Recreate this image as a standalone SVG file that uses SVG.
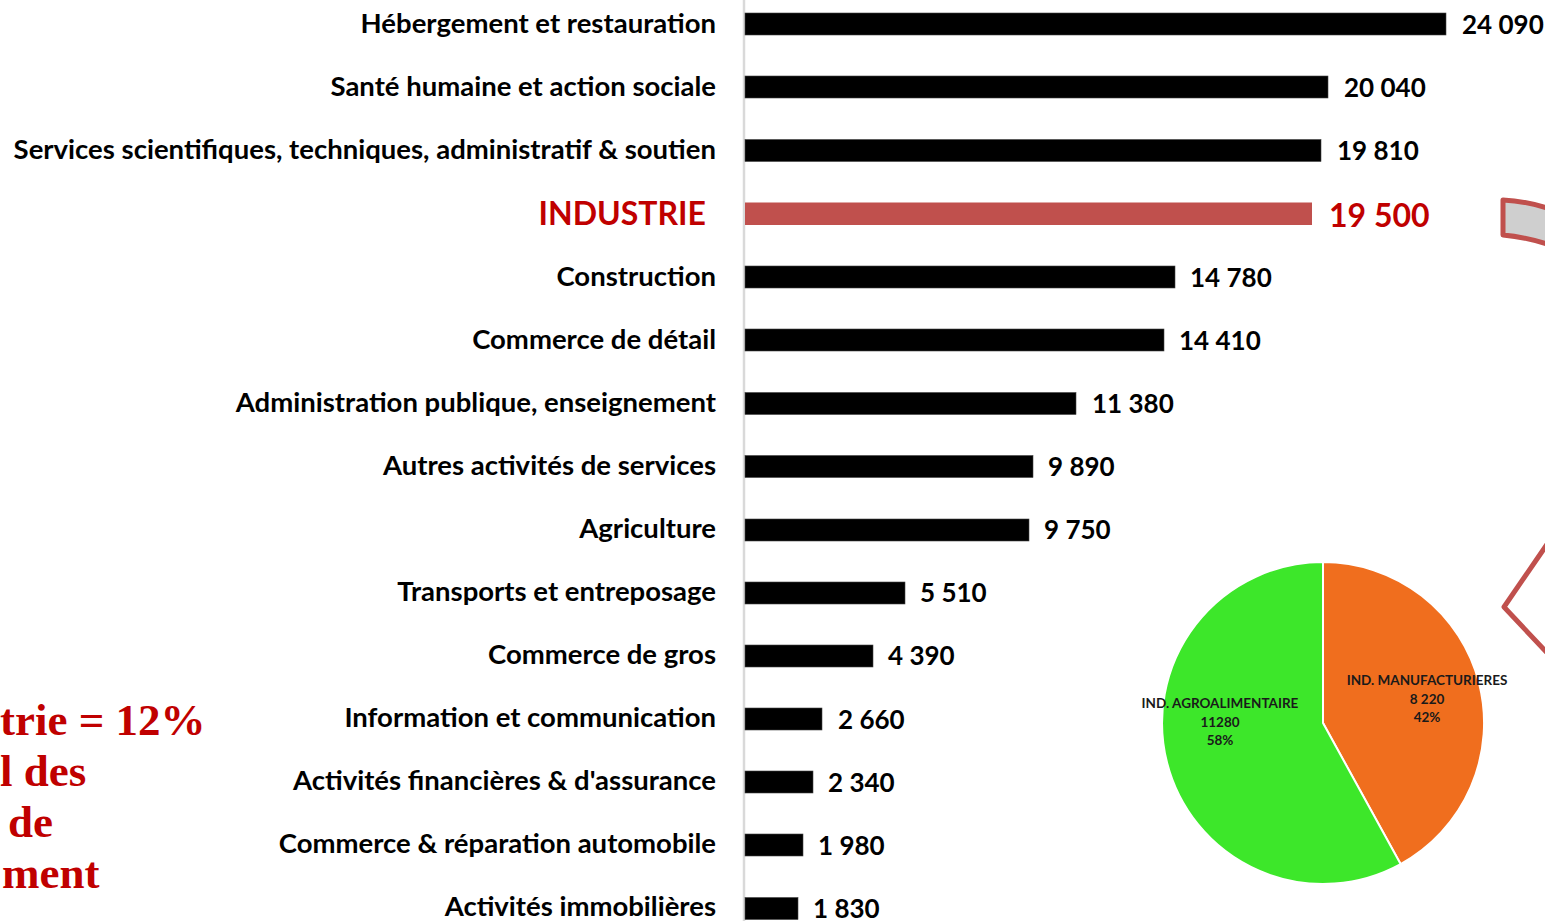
<svg xmlns="http://www.w3.org/2000/svg" width="1545" height="921" viewBox="0 0 1545 921">
<style>
.lbl{font-family:Lato,"Open Sans","Liberation Sans",sans-serif;font-weight:700;font-size:27.5px;fill:#000;text-anchor:end}
.val{font-family:Lato,"Open Sans","Liberation Sans",sans-serif;font-weight:700;font-size:26px;fill:#000}
.red{fill:#C00000;font-size:32px}
.bar{fill:#000;stroke:#444;stroke-width:0.6}
.pie{font-family:Lato,"Open Sans","Liberation Sans",sans-serif;font-weight:700;font-size:13.5px;fill:#1a1a1a;text-anchor:middle}
.big{font-family:"Liberation Serif","DejaVu Serif",serif;font-weight:700;font-size:45px;fill:#C00000}
</style>
<rect width="1545" height="921" fill="#fff"/>
<line x1="744" y1="0" x2="744" y2="921" stroke="#D9D9D9" stroke-width="2.5"/>
<g id="r1"><text class="lbl" x="716" y="33">Hébergement et restauration</text><rect class="bar" x="745" y="13" width="701" height="22"/><text class="val" x="1462" y="34">24 090</text></g>
<g id="r2"><text class="lbl" x="716" y="96">Santé humaine et action sociale</text><rect class="bar" x="745" y="76" width="583" height="22"/><text class="val" x="1344" y="97">20 040</text></g>
<g id="r3"><text class="lbl" x="716" y="159">Services scientifiques, techniques, administratif &amp; soutien</text><rect class="bar" x="745" y="139.5" width="576" height="22"/><text class="val" x="1337" y="160">19 810</text></g>
<g id="r4"><text class="lbl red" x="706" y="225">INDUSTRIE</text><rect x="745" y="202.5" width="567" height="22.5" fill="#C0504D"/><text class="val red" x="1329" y="227">19 500</text></g>
<g id="r5"><text class="lbl" x="716" y="286">Construction</text><rect class="bar" x="745" y="266" width="430" height="22"/><text class="val" x="1190" y="287">14 780</text></g>
<g id="r6"><text class="lbl" x="716" y="349">Commerce de détail</text><rect class="bar" x="745" y="329" width="419" height="22"/><text class="val" x="1179" y="350">14 410</text></g>
<g id="r7"><text class="lbl" x="716" y="412">Administration publique, enseignement</text><rect class="bar" x="745" y="392.5" width="331" height="22"/><text class="val" x="1092" y="413">11 380</text></g>
<g id="r8"><text class="lbl" x="716" y="475">Autres activités de services</text><rect class="bar" x="745" y="455.5" width="288" height="22"/><text class="val" x="1048" y="476">9 890</text></g>
<g id="r9"><text class="lbl" x="716" y="538">Agriculture</text><rect class="bar" x="745" y="519" width="284" height="22"/><text class="val" x="1044" y="539">9 750</text></g>
<g id="r10"><text class="lbl" x="716" y="601">Transports et entreposage</text><rect class="bar" x="745" y="582" width="160" height="22"/><text class="val" x="920" y="602">5 510</text></g>
<g id="r11"><text class="lbl" x="716" y="664">Commerce de gros</text><rect class="bar" x="745" y="645" width="128" height="22"/><text class="val" x="888" y="665">4 390</text></g>
<g id="r12"><text class="lbl" x="716" y="727">Information et communication</text><rect class="bar" x="745" y="708" width="77" height="22"/><text class="val" x="838" y="729">2 660</text></g>
<g id="r13"><text class="lbl" x="716" y="790">Activités financières &amp; d'assurance</text><rect class="bar" x="745" y="771" width="68" height="22"/><text class="val" x="828" y="792">2 340</text></g>
<g id="r14"><text class="lbl" x="716" y="853">Commerce &amp; réparation automobile</text><rect class="bar" x="745" y="834" width="58" height="22"/><text class="val" x="818" y="855">1 980</text></g>
<g id="r15"><text class="lbl" x="716" y="916">Activités immobilières</text><rect class="bar" x="745" y="897.5" width="53" height="22"/><text class="val" x="813" y="918">1 830</text></g>
<g id="note">
<text class="big" x="0" y="735">trie = 12%</text>
<text class="big" x="0" y="786">l des</text>
<text class="big" x="8" y="837">de</text>
<text class="big" x="2" y="888">ment</text>
</g>
<g id="pie">
<path d="M1323,723 L1323,562 A161,161 0 0 1 1400.6,864.1 Z" fill="#F06E1E" stroke="#fff" stroke-width="2"/>
<path d="M1323,723 L1400.6,864.1 A161,161 0 1 1 1323,562 Z" fill="#3DE72A" stroke="#fff" stroke-width="2"/>
<text class="pie" x="1427" y="685">IND. MANUFACTURIERES</text>
<text class="pie" x="1427" y="704">8 220</text>
<text class="pie" x="1427" y="722">42%</text>
<text class="pie" x="1220" y="708">IND. AGROALIMENTAIRE</text>
<text class="pie" x="1220" y="727">11280</text>
<text class="pie" x="1220" y="745">58%</text>
</g>
<g id="callouts" fill="none" stroke="#C0504D" stroke-width="5" stroke-linejoin="round">
<path d="M1503,200 Q1526,201 1550,209 L1550,245 Q1526,237 1503,235 Z" fill="#CFCFCF"/>
<path d="M1550,540 L1504,607 L1550,656"/>
</g>
</svg>
